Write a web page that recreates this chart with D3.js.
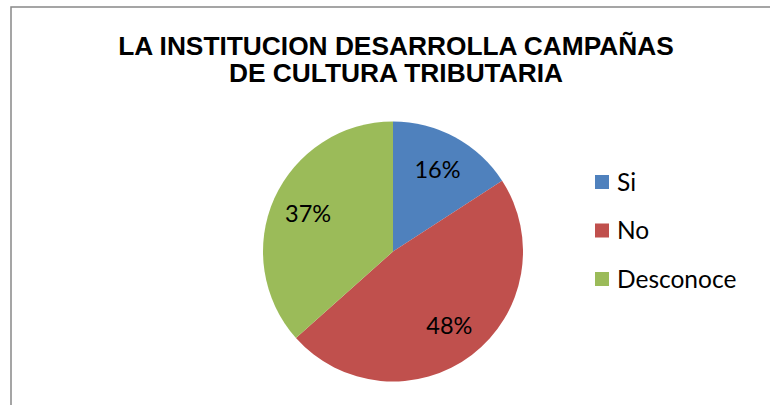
<!DOCTYPE html>
<html lang="es">
<head>
<meta charset="UTF-8">
<title>La institucion desarrolla campañas de cultura tributaria</title>
<script src="https://d3js.org/d3.v7.min.js"></script>
<style>
    body { margin: 0; background: #fff; }
    svg { display: block; }
</style>
</head>
<body>
<svg></svg>
<script>
    // datos (respuestas por categoría)
    const categories = ["Si", "No", "Desconoce"];
    const counts = [13, 39, 30];
    const colors = ["#4F81BD", "#C0504D", "#9BBB59"];
    const titleLines = ["LA INSTITUCION DESARROLLA CAMPAÑAS", "DE CULTURA TRIBUTARIA"];

    const width = 770;
    const height = 405;
    const cx = 393, cy = 251.5, radius = 130;

    const svg = d3.select("svg").attr("width", width).attr("height", height);

    // marco del gráfico
    svg.append("rect")
        .attr("x", 11).attr("y", 7)
        .attr("width", 800).attr("height", 500)
        .attr("fill", "none")
        .attr("stroke", "#888")
        .attr("stroke-width", 1.5);

    svg.append("text")
        .attr("x", 396)
        .attr("font-family", "Liberation Sans, Arial, sans-serif")
        .attr("font-weight", "bold")
        .attr("font-size", 26.3)
        .attr("text-anchor", "middle")
        .selectAll("tspan")
        .data(titleLines)
        .join("tspan")
        .attr("x", 396)
        .attr("y", (d, i) => 54.5 + i * 27.5)
        .text(d => d);

    const data = categories.map((c, i) => ({ name: c, value: counts[i], color: colors[i] }));
    const total = d3.sum(counts);

    const pie = d3.pie().value(d => d.value).sort(null);
    const arc = d3.arc().innerRadius(0).outerRadius(radius);
    const labelArc = d3.arc().innerRadius(93).outerRadius(93);

    const g = svg.append("g").attr("transform", `translate(${cx},${cy})`);
    const arcs = pie(data);

    g.selectAll("path")
        .data(arcs)
        .join("path")
        .attr("d", arc)
        .attr("fill", d => d.data.color);

    g.selectAll("text")
        .data(arcs)
        .join("text")
        .attr("transform", d => `translate(${labelArc.centroid(d)})`)
        .attr("text-anchor", "middle")
        .attr("dy", "0.36em")
        .attr("font-family", "Lato, sans-serif")
        .attr("font-size", 23.5)
        .attr("fill", "#000")
        .text(d => d3.format(".0%")(d.data.value / total));

    // leyenda
    const legend = svg.append("g").attr("transform", "translate(595,182)");
    const item = legend.selectAll("g")
        .data(data)
        .join("g")
        .attr("transform", (d, i) => `translate(0,${i * 48.5})`);

    item.append("rect")
        .attr("x", 0).attr("y", -7)
        .attr("width", 14).attr("height", 14)
        .attr("fill", d => d.color);

    item.append("text")
        .attr("x", 22)
        .attr("dy", "0.36em")
        .attr("font-family", "Lato, sans-serif")
        .attr("font-size", 24.5)
        .attr("fill", "#000")
        .text(d => d.name);
</script>
</body>
</html>
